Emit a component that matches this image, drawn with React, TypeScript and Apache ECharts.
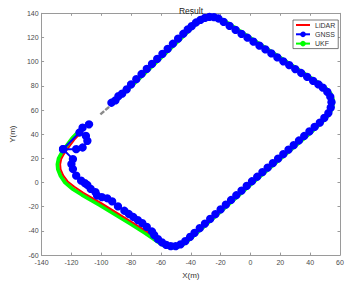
import React, { useEffect, useRef } from "react";
import * as echarts from "echarts";

const chartTitle = "Result";
const xName = "X(m)";
const yName = "Y(m)";
const xRange = [-140, 60];
const yRange = [-60, 140];
const tickStep = 20;
const seriesNames = ["LiDAR", "GNSS", "UKF"];

// LiDAR trajectory (red)
const lidarPath: number[][] = [
  [-93.5, 65.5], [-63, 101.5], [-39.5, 129], [-35, 133.3], [-30.5, 136], [-26.5, 137],
  [-22.5, 136], [-18, 133], [45.5, 81], [49.5, 77.5], [52.5, 73.5], [54.2, 68.5],
  [54, 63], [52, 57.5], [48.5, 52.5], [39, 41.5], [0, 0], [-40.5, -45], [-44, -48.8],
  [-47.5, -51.3], [-51, -52.6], [-54.5, -52.3], [-58, -50.5], [-61.5, -47.5],
  [-69.5, -40.5], [-79, -33], [-100, -17], [-112, -8.5], [-118, -3.5], [-122.5, 1],
  [-125.5, 6], [-127.2, 11], [-127.5, 15], [-126.8, 19.5], [-125, 23.5], [-122.5, 28],
  [-118, 35.5], [-112.5, 42.5],
];

// UKF trajectory (green)
const ukfPath: number[][] = [
  [-92.5, 65], [-62, 101], [-38.8, 128.6], [-34.5, 133], [-30.3, 135.8], [-26.5, 137.2],
  [-22, 136.5], [-17.5, 133.8], [46, 82], [50.3, 78], [53.5, 74], [55.3, 68.5],
  [55, 62.8], [53, 57], [49.5, 52], [40, 41], [1, -0.5], [-40, -46], [-43.8, -50],
  [-47.5, -52.6], [-51, -53.8], [-54.8, -53.5], [-58.5, -51.7], [-62.2, -48.8],
  [-70.5, -41.8], [-80, -34.3], [-101, -18.5], [-113, -10], [-119.5, -5], [-124.2, 0],
  [-127.2, 5.5], [-129, 11], [-129.3, 15], [-128.5, 20], [-126.5, 24.5], [-124, 29],
  [-119.5, 36.5], [-114, 43.5],
];

// short grey dashed segment in the gap
const gapPath: number[][] = [[-100.6, 56.4], [-94.2, 63.2]];

// GNSS fixes (blue)
const gnssMain: number[][] = [
  [-93.2, 66], [-90.5, 68], [-88.5, 71.5], [-86, 73.5], [-83, 77], [-80, 81.2],
  [-76.5, 85.5], [-73, 89.8], [-69.5, 94], [-66, 98.2], [-62.5, 102.3], [-59, 106.5],
  [-55.5, 110.6], [-52, 114.8], [-48.5, 119], [-45, 123.1], [-42, 126.7], [-39.4, 129.4],
  [-36.5, 132.4], [-33.5, 134.6], [-30.5, 136.2], [-27.5, 137], [-24.5, 136.9],
  [-21.5, 135.7], [-18, 132.9], [-14, 129.6], [-10, 126.3], [-6, 123], [-2, 119.8],
  [2, 116.5], [6, 113.3], [10, 110.1], [14, 106.8], [18, 103.6], [22, 100.3], [26, 97.1],
  [30, 93.9], [34, 90.6], [38, 87.4], [42, 84.1], [45.5, 81.2], [48.5, 78.5], [51.5, 75],
  [53.5, 71], [54.3, 66.5], [53.8, 62], [52.2, 57.5], [49.5, 53.5], [46.5, 49.6],
  [43, 46], [39.5, 42.3], [36, 38.5], [32.5, 34.8], [29, 31], [25.5, 27.3], [22, 23.5],
  [18.5, 19.8], [15, 16], [11.5, 12.3], [8, 8.6], [4.5, 4.8], [1, 1.1], [-2.5, -2.8],
  [-6, -6.7], [-9.5, -10.5], [-13, -14.4], [-16.5, -18.3], [-20, -22.2], [-23.5, -26.1],
  [-27, -30], [-30.5, -33.9], [-34, -37.7], [-37.5, -41.6], [-40.5, -45], [-43.7, -48.5],
  [-46.9, -51.2], [-50.1, -52.6], [-53.4, -52.6], [-56.5, -51.6], [-59.3, -49.5],
  [-62, -46.8], [-64.5, -43.5], [-66, -40.5], [-69.5, -36.7], [-72.5, -33.5],
  [-75.5, -31], [-78.5, -28.5], [-81.5, -26], [-84.5, -23.3], [-88.8, -19.7],
  [-92.7, -15.6], [-96, -13], [-99.6, -12], [-102.8, -10.7], [-103.9, -7.9],
  [-107.1, -5.2], [-109.3, -2], [-111, -0.5], [-113.5, 1.6], [-116.8, 5.7], [-119, 11.2],
  [-120, 15.3], [-119, 19.4], [-125.6, 27.6], [-116.8, 27.6], [-112.5, 29],
  [-109.3, 34.5], [-110.3, 38.6],
];
const gnssBranch: number[][] = [
  [-125.6, 27.6], [-114.6, 41.4], [-112.5, 45.5], [-108.2, 48.2],
];

const AXIS_COLOR = "#9a9a9a";
const LABEL_COLOR = "#4a4a4a";
const FONT = "Liberation Sans, Arial, sans-serif";

export default function App() {
  const ref = useRef<HTMLDivElement>(null);
  useEffect(() => {
    if (!ref.current) return;
    const chart = echarts.init(ref.current, undefined, { renderer: "svg" });
    const axisCommon = {
      type: "value" as const,
      interval: tickStep,
      axisLine: { show: true, onZero: false, lineStyle: { color: AXIS_COLOR, width: 1 } },
      axisTick: { show: true, inside: true, length: 2.5, lineStyle: { color: AXIS_COLOR } },
      splitLine: { show: false },
    };
    chart.setOption({
      animation: false,
      backgroundColor: "#ffffff",
      title: {
        text: chartTitle,
        left: 186,
        textAlign: "center",
        top: 1,
        textStyle: { fontSize: 8.5, fontWeight: "normal", color: "#222", fontFamily: FONT },
      },
      legend: {
        data: [
          { name: seriesNames[0], itemStyle: { opacity: 0 } },
          { name: seriesNames[1] },
          { name: seriesNames[2] },
        ],
        orient: "vertical",
        left: 293,
        top: 20,
        itemWidth: 14,
        itemHeight: 7,
        itemGap: 2.3,
        padding: [1.5, 3, 1.5, 2],
        backgroundColor: "#ffffff",
        borderColor: "#555",
        borderWidth: 0.8,
        borderRadius: 0,
        textStyle: { fontSize: 7, color: "#333", fontFamily: FONT },
      },
      grid: { left: 30, right: 10, top: 13.3, bottom: 27.3, containLabel: false },
      xAxis: [
        {
          ...axisCommon,
          position: "bottom",
          min: xRange[0],
          max: xRange[1],
          name: xName,
          nameLocation: "middle",
          nameGap: 13.5,
          nameTextStyle: { fontSize: 8, color: "#333", fontFamily: FONT },
          axisLabel: { fontSize: 7, color: LABEL_COLOR, margin: 4, fontFamily: FONT },
        },
        {
          ...axisCommon,
          position: "top",
          min: xRange[0],
          max: xRange[1],
          axisLabel: { show: false },
        },
      ],
      yAxis: [
        {
          ...axisCommon,
          position: "left",
          min: yRange[0],
          max: yRange[1],
          name: yName,
          nameLocation: "middle",
          nameGap: 18,
          nameTextStyle: { fontSize: 8, color: "#333", fontFamily: FONT },
          axisLabel: { fontSize: 7, color: LABEL_COLOR, margin: 3, fontFamily: FONT },
        },
        {
          ...axisCommon,
          position: "right",
          min: yRange[0],
          max: yRange[1],
          axisLabel: { show: false },
        },
      ],
      series: [
        {
          name: "UKF",
          type: "line",
          data: ukfPath,
          symbol: "circle",
          showSymbol: false,
          symbolSize: 5,
          itemStyle: { color: "#00ff00" },
          lineStyle: { color: "#00ff00", width: 4 },
          z: 2,
        },
        {
          name: "LiDAR",
          type: "line",
          data: lidarPath,
          symbol: "none",
          itemStyle: { color: "#ff0000" },
          lineStyle: { color: "#ff0000", width: 1.8 },
          z: 3,
        },
        {
          name: "gap",
          type: "line",
          data: gapPath,
          symbol: "none",
          lineStyle: { color: "#8a8a8a", width: 2.5, type: [5, 1.5] },
          z: 3,
        },
        {
          name: "GNSS",
          type: "line",
          data: gnssMain,
          symbol: "circle",
          symbolSize: 8.3,
          itemStyle: { color: "#0000ff" },
          lineStyle: { color: "#0000ff", width: 2 },
          z: 4,
        },
        {
          name: "GNSS",
          type: "line",
          data: gnssBranch,
          symbol: "circle",
          symbolSize: 8.3,
          itemStyle: { color: "#0000ff" },
          lineStyle: { color: "#0000ff", width: 2 },
          z: 4,
        },
      ],
    });
    return () => chart.dispose();
  }, []);
  return (
    <div
      ref={ref}
      style={{ position: "fixed", left: 0, top: 0, width: 350, height: 284, background: "#fff" }}
    />
  );
}
